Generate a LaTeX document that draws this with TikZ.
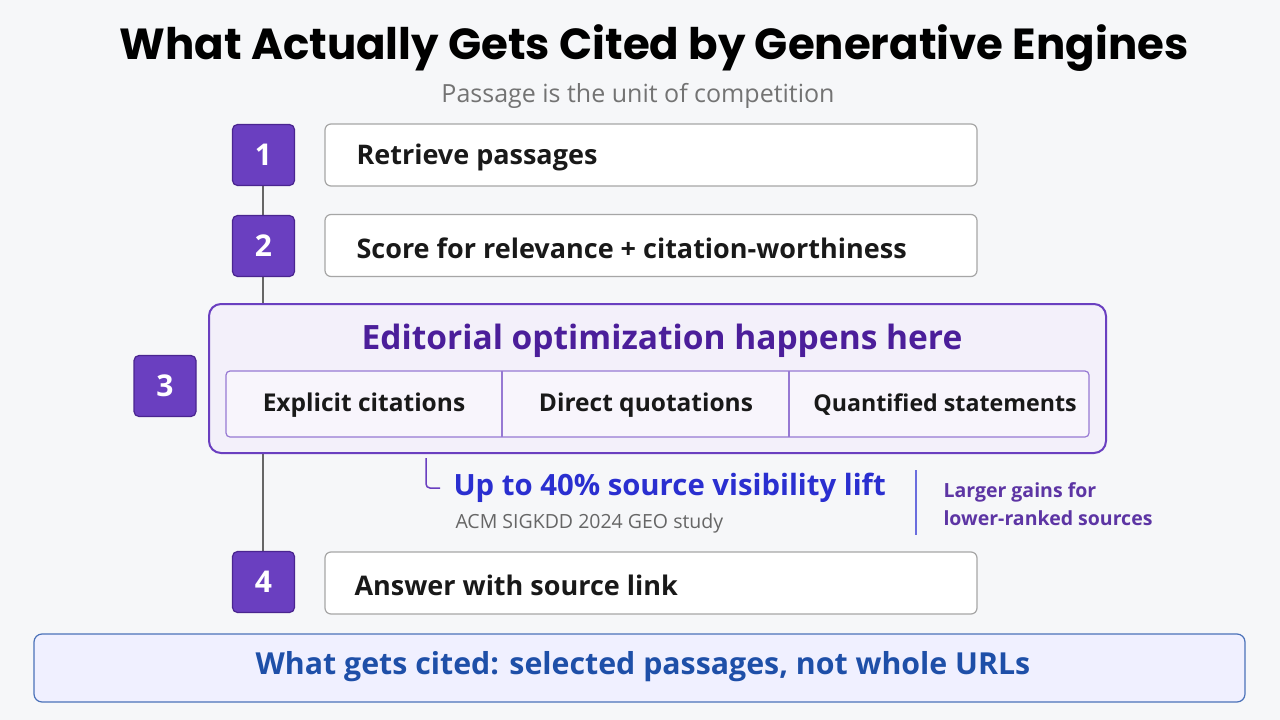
\documentclass[tikz,border=0pt]{standalone}
\usepackage{fontspec}
\setmainfont{Open Sans}
\newfontfamily\titlefont{Poppins}
\begin{document}
\begin{tikzpicture}[x=1pt,y=-1pt,
 num/.style={draw=numb,fill=numc,rounded corners=5pt,line width=1.2pt,minimum width=62pt,minimum height=61pt,text=white,font=\fontsize{30}{30}\selectfont\bfseries},
 stepbox/.style={draw=gray!70,fill=white,rounded corners=6pt,line width=1.2pt,minimum width=652pt,minimum height=62pt},
 steptxt/.style={anchor=west,font=\fontsize{27}{27}\selectfont\bfseries,text=black!90},
 cell/.style={font=\fontsize{24.5}{24}\selectfont\bfseries,text=black!90}]
\definecolor{numc}{HTML}{6A3FC0}
\definecolor{numb}{HTML}{4A2590}
\definecolor{bg}{HTML}{F6F7F9}
\definecolor{ed}{HTML}{4B1E9A}
\definecolor{blu}{HTML}{2A2FD0}
\definecolor{dblu}{HTML}{1E4FA8}
\fill[bg] (0,0) rectangle (1280,720);
\useasboundingbox (0,0) rectangle (1280,720);
\node[font=\titlefont\fontsize{43.5}{43.5}\selectfont\bfseries] (title) at (654,48) {What Actually Gets Cited by Generative Engines};
\node[font=\fontsize{25}{25}\selectfont,text=gray!90!black] (sub) at (638,96) {Passage is the unit of competition};
\draw[gray!80!black,line width=1.5pt] (263,186) -- (263,553);
\node[stepbox] (s1) at (651,155) {};
\node[steptxt] at (353,157) {Retrieve passages};
\node[stepbox] (s2) at (651,245.5) {};
\node[steptxt] at (353,248) {Score for relevance + citation-worthiness};
\node[stepbox] (s4) at (651,583) {};
\node[steptxt] at (351,585) {Answer with source link};
\node[draw=numc,fill=numc!8,line width=2pt,rounded corners=12pt,minimum width=897pt,minimum height=149pt] (ed) at (657.5,378.5) {};
\node[font=\fontsize{33.5}{33.5}\selectfont\bfseries,text=ed] (edt) at (662,341) {Editorial optimization happens here};
\draw[numc!70,line width=1.2pt,fill=numc!5,rounded corners=4pt] (226,371) rectangle (1089,437);
\draw[numc!70,line width=1.2pt] (502,371) -- (502,437) (789,371) -- (789,437);
\node[cell] (c1) at (364,405) {Explicit citations};
\node[cell] (c2) at (646,405) {Direct quotations};
\node[cell,font=\fontsize{23.2}{24}\selectfont\bfseries] (c3) at (945,405) {Quantified statements};
\node[num] (n1) at (263.5,155) {1};
\node[num] (n2) at (263.5,246) {2};
\node[num] (n3) at (165,386) {3};
\node[num] (n4) at (263.5,582) {4};
\coordinate (lk) at (426,458);
\coordinate (le) at (440,488);
\draw[numc,line width=1.5pt,rounded corners=4pt] (lk) -- (426,488) -- (le);
\node[anchor=west,font=\fontsize{29.3}{30}\selectfont\bfseries,text=blu] (lift) at (450,488) {Up to 40\% source visibility lift};
\node[anchor=west,font=\fontsize{19.5}{19}\selectfont,text=gray!80!black] (acm) at (452,523) {ACM SIGKDD 2024 GEO study};
\draw[blu!70,line width=1.5pt] (916,470) -- (916,535);
\node[anchor=west,align=left,font=\fontsize{19.5}{28}\selectfont\bfseries,text=ed!90] (lg) at (940,504) {Larger gains for\\lower-ranked sources};
\node[draw=dblu!80,fill=blue!6,line width=1.2pt,rounded corners=8pt,minimum width=1211pt,minimum height=68pt] (bot) at (639.5,668) {};
\node[font=\fontsize{30.3}{30}\selectfont\bfseries,text=dblu] at (643,667) {What gets cited: selected passages, not whole URLs};
\end{tikzpicture}
\end{document}
